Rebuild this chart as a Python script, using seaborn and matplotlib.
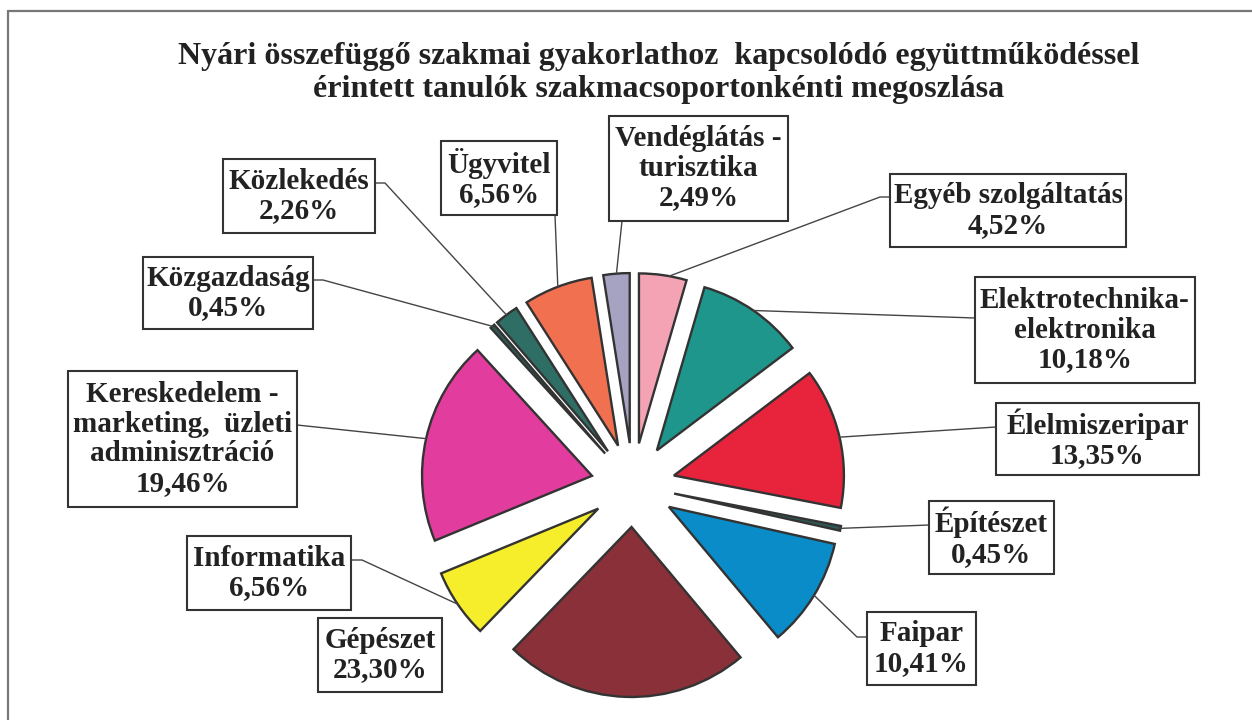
import matplotlib
matplotlib.use("Agg")
import matplotlib.pyplot as plt
import seaborn as sns
import numpy as np
from matplotlib.patches import Rectangle
from matplotlib.lines import Line2D

# ---- data ----
categories = [
    "Egyéb szolgáltatás",
    "Elektrotechnika-\nelektronika",
    "Élelmiszeripar",
    "Építészet",
    "Faipar",
    "Gépészet",
    "Informatika",
    "Kereskedelem -\nmarketing,  üzleti\nadminisztráció",
    "Közgazdaság",
    "Közlekedés",
    "Ügyvitel",
    "Vendéglátás -\nturisztika",
]
values = [4.52, 10.18, 13.35, 0.45, 10.41, 23.30, 6.56, 19.46, 0.45, 2.26, 6.56, 2.49]
colors = ["#F4A3B4", "#1E968C", "#E8243C", "#2D5A55", "#0A8CC8", "#8A3038",
          "#F6EE2A", "#E23C9E", "#2D5A55", "#2E6E64", "#F07050", "#A6A2C2"]
title_lines = ["Nyári összefüggő szakmai gyakorlathoz  kapcsolódó együttműködéssel",
               "érintett tanulók szakmacsoportonkénti megoszlása"]

# ---- style ----
sns.set_theme(style="white")
plt.rcParams['font.family'] = ['Liberation Serif', 'DejaVu Serif']

W, H = 1252, 720
fig = plt.figure(figsize=(W / 100, H / 100), dpi=100)
ax = fig.add_axes([0, 0, 1, 1])


def Y(y):
    return H - y


wedges, _ = ax.pie(values, colors=colors, startangle=90, counterclock=False,
                   explode=[42] * len(values), radius=170, center=(633, Y(485)),
                   wedgeprops=dict(edgecolor="#333333", linewidth=1.7, joinstyle="miter"))
ax.set_xlim(0, W)
ax.set_ylim(0, H)
ax.set_aspect("auto")
ax.axis("off")

# layout: label boxes (image px: x0, y0, x1, y1) and leader line starts
boxes = [
    (890, 174, 1126, 247), (975, 277, 1195, 383), (996, 403, 1199, 475),
    (929, 501, 1054, 574), (867, 612, 976, 685), (318, 618, 442, 692),
    (187, 536, 351, 610), (68, 371, 297, 507), (143, 257, 313, 329),
    (223, 159, 375, 233), (441, 141, 557, 215), (609, 116, 788, 221),
]
leaders = [
    [(890, 197), (880, 197)], [(975, 318)], [(996, 427)], [(929, 525)],
    [(867, 637), (857, 637)], None, [(351, 560), (362, 560)], [(297, 425)],
    [(313, 280), (323, 280)], [(375, 183), (385, 183)], [(555, 215)], [(622, 221)],
]
anchor_t = [0.37, 0.5, 0.5, 0.5, 0.5, 0.5, 0.5, 0.5, 0.5, 0.5, 0.5, 0.5]

for w, cat, v, box, lead, t in zip(wedges, categories, values, boxes, leaders, anchor_t):
    x0, y0, x1, y1 = box
    ax.add_patch(Rectangle((x0, Y(y1)), x1 - x0, y1 - y0, facecolor="white",
                           edgecolor="#333333", linewidth=1.5, zorder=3))
    label = f"{cat}\n{v:.2f}".replace(".", ",") + "%"
    ax.text((x0 + x1) / 2, Y((y0 + y1) / 2), label, ha="center", va="center",
            fontsize=21, fontweight="bold", color="#222222", linespacing=1.12, zorder=4)
    if lead is not None:
        ang = np.deg2rad(w.theta1 + t * (w.theta2 - w.theta1))
        cx, cy = w.center
        ex, ey = cx + w.r * np.cos(ang), cy + w.r * np.sin(ang)
        xs = [p[0] for p in lead] + [ex]
        ys = [Y(p[1]) for p in lead] + [ey]
        ax.add_line(Line2D(xs, ys, color="#444444", linewidth=1.0, zorder=2))

# title
ax.text(659, Y(64), title_lines[0], ha="center", va="baseline", fontsize=23,
        fontweight="bold", color="#222222")
ax.text(659, Y(97), title_lines[1], ha="center", va="baseline", fontsize=23,
        fontweight="bold", color="#222222")

# outer frame
ax.add_line(Line2D([8, 8], [Y(11), Y(720)], color="#777777", linewidth=1.6))
ax.add_line(Line2D([8, W], [Y(11), Y(11)], color="#777777", linewidth=1.6))

fig.savefig("out.png", dpi=100)
